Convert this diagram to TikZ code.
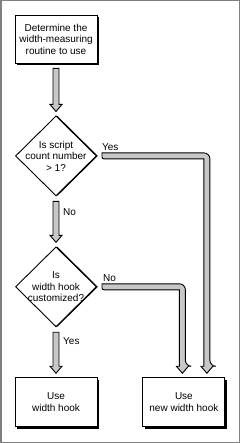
\documentclass[tikz,border=0pt]{standalone}
\usepackage{fontspec}
\setmainfont{Liberation Sans}
\usetikzlibrary{positioning,shapes.geometric,shadows,calc}

\definecolor{shaftgray}{RGB}{200,200,200}
\definecolor{framegray}{RGB}{128,128,128}

\newcommand{\fatdown}[2]{%
  \draw[fat] let \p1=#1, \p2=#2 in
    (\x1-3pt,\y1-5pt) -- (\x1+3pt,\y1-5pt) -- (\x1+3pt,\y2+11pt) -- (\x1+6pt,\y2+11pt)
    -- (\x1,\y2+4pt) -- (\x1-6pt,\y2+11pt) -- (\x1-3pt,\y2+11pt) -- cycle;}
\newcommand{\fatbend}[2]{%
  \draw[fat] let \p1=#1, \p2=#2 in
    (\x1+5pt,\y1+3pt) [rounded corners=6pt] -- (\x2+3pt,\y1+3pt) -- (\x2+3pt,\y2+11pt) [sharp corners]
    -- (\x2+6pt,\y2+11pt) -- (\x2,\y2+4pt) -- (\x2-6pt,\y2+11pt) -- (\x2-3pt,\y2+11pt)
    -- (\x2-3pt,\y1-3pt) [rounded corners=2pt] -- (\x1+5pt,\y1-3pt) [sharp corners] -- cycle;}

\begin{document}
\begin{tikzpicture}[
    node distance=50pt and 45pt,
    font=\fontsize{10}{11.5}\selectfont,
    stepbox/.style={draw, fill=white, line width=0.9pt, align=center, minimum width=82pt, minimum height=48pt, inner sep=2pt,
        drop shadow={shadow xshift=2pt, shadow yshift=-2pt, fill=black, opacity=1}},
    test/.style={diamond, draw, fill=white, line width=0.9pt, align=center, minimum width=81pt, minimum height=80pt, inner sep=-6pt,
        drop shadow={shadow xshift=1.5pt, shadow yshift=0pt, fill=black, opacity=1}},
    fat/.style={draw=black, fill=shaftgray, line width=0.9pt, line join=miter},
    lbl/.style={inner sep=0pt, anchor=base west}
]
\useasboundingbox (0,0) rectangle (240pt,-443pt);
\draw[framegray, line width=1.5pt] (0.75pt,-0.75pt) rectangle (239.25pt,-442.25pt);
\node[stepbox] (det) at (56pt,-39pt) {Determine the\\width-measuring\\routine to use};
\node[test, below=52pt of det] (script) {Is script\\count number\\> 1?};
\node[test, below=of script] (custom) {Is\\width hook\\customized?};
\node[stepbox, below=of custom, minimum height=49pt] (usehook) {Use\\width hook};
\node[stepbox, right=of usehook, minimum height=49pt] (newhook) {Use\\new width hook};
\coordinate (noend) at ($(newhook.north)+(-1.5pt,0)$);
\coordinate (yesend) at ($(newhook.north)+(23pt,0)$);
\fatdown{(det.south)}{(script.north)}
\fatdown{(script.south)}{(custom.north)}
\fatdown{(custom.south)}{(usehook.north)}
\fatbend{(script.east)}{(yesend)}
\fatbend{(custom.east)}{(noend)}
\node[lbl] (yes1) at ($(script.east)+(5pt,5.5pt)$) {Yes};
\node[lbl] (no1) at ($(script.south)+(7pt,-19pt)$) {No};
\node[lbl] (no2) at ($(custom.east)+(6pt,5.5pt)$) {No};
\node[lbl] (yes2) at ($(custom.south)+(7pt,-17pt)$) {Yes};
\end{tikzpicture}
\end{document}
